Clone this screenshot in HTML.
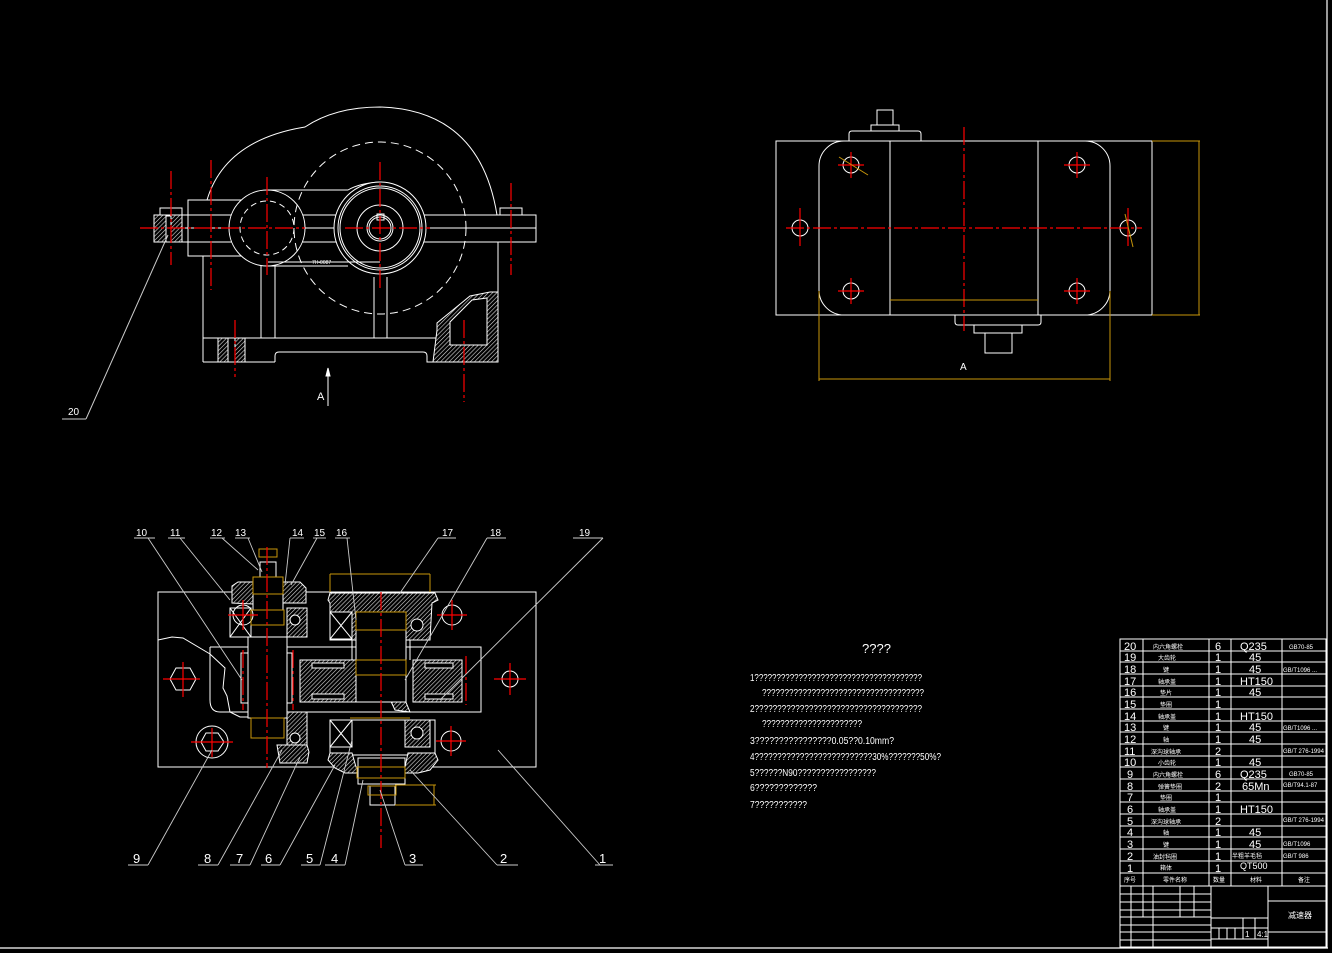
<!DOCTYPE html>
<html><head><meta charset="utf-8"><style>
html,body{margin:0;padding:0;background:#000;}
svg{display:block;}
text{font-family:"Liberation Sans","Noto Sans CJK SC",sans-serif;fill:#fff;}
</style></head><body>
<svg width="1332" height="953" viewBox="0 0 1332 953" xmlns="http://www.w3.org/2000/svg">
<defs>
<pattern id="h" width="3" height="3" patternUnits="userSpaceOnUse" patternTransform="rotate(45)">
<rect width="3" height="3" fill="#000"/><line x1="0" y1="0" x2="0" y2="3" stroke="#ddd" stroke-width="1.2"/>
</pattern>
</defs>
<rect width="1332" height="953" fill="#000"/>
<!-- frame -->
<g stroke="#fff" fill="none" stroke-width="1.2">
<line x1="0" y1="948" x2="1328" y2="948"/>
<line x1="1327" y1="0" x2="1327" y2="948"/>
</g>

<!-- FRONT VIEW -->
<g stroke="#fff" fill="none" stroke-width="1">
<path d="M207,200 Q225,140 305,127 Q335,107 380,107 Q480,110 497,215"/>
<rect x="188" y="200" width="54" height="56"/>
<rect x="154" y="215" width="382" height="27"/>
<line x1="154" y1="228" x2="536" y2="228"/>
<rect x="160" y="208" width="22" height="7"/>
<rect x="500" y="208" width="22" height="7"/>
<rect x="154" y="215" width="28" height="27" fill="url(#h)"/>
<rect x="166" y="216" width="5" height="26" fill="#000"/>
<circle cx="267" cy="228" r="38" fill="#000"/>
<circle cx="267" cy="228" r="27" stroke-dasharray="6,4"/>
<path d="M268,190 L348,190 Q360,183 380,182"/>
<circle cx="380" cy="228" r="86" stroke-dasharray="8,5"/>
<circle cx="380" cy="228" r="46" fill="#000"/>
<circle cx="380" cy="228" r="42"/>
<circle cx="380" cy="228" r="40"/>
<circle cx="380" cy="228" r="23"/>
<circle cx="380" cy="228" r="13"/>
<circle cx="380" cy="228" r="11"/>
<rect x="377" y="214" width="7" height="6"/>
<line x1="203" y1="256" x2="203" y2="362"/>
<line x1="498" y1="242" x2="498" y2="362"/>
<line x1="203" y1="362" x2="275" y2="362"/>
<path d="M275,362 L275,356 Q275,352 279,352 L423,352 Q427,352 427,356 L427,362 L498,362"/>
<line x1="203" y1="338" x2="437" y2="338"/>
<line x1="268" y1="266" x2="348" y2="266"/>
<line x1="261" y1="266" x2="261" y2="338"/><line x1="275" y1="266" x2="275" y2="338"/>
<line x1="374" y1="277" x2="374" y2="338"/><line x1="387" y1="277" x2="387" y2="338"/>
<path d="M437,330 L437,323 L470,296 L490,292 L498,292 L498,362 L433,362 Z" fill="url(#h)"/>
<path d="M450,345 L450,322 L472,300 L487,298 L487,345 Z" fill="#000"/>
<path d="M218,338 L218,362 L245,362 L245,338 Z" fill="url(#h)"/>
<rect x="228" y="338" width="7" height="24" fill="#000"/>
<line x1="268" y1="262" x2="380" y2="262"/>
<line x1="328" y1="372" x2="328" y2="406"/>
<path d="M328,368 L326,376 L330,376 Z" fill="#fff"/>
</g>
<text x="312" y="264" font-size="5" fill="#fff">7H-0087</text>
<text x="317" y="400" font-size="11">A</text>
<g stroke="#f00" stroke-width="1.2" stroke-dasharray="18,3,3,3" fill="none">
<line x1="140" y1="228" x2="305" y2="228"/>
<line x1="345" y1="228" x2="430" y2="228"/>
<line x1="171" y1="171" x2="171" y2="265"/>
<line x1="211" y1="160" x2="211" y2="290"/>
<line x1="267" y1="177" x2="267" y2="275"/>
<line x1="380" y1="162" x2="380" y2="290"/>
<line x1="511" y1="183" x2="511" y2="275"/>
<line x1="235" y1="320" x2="235" y2="377"/>
<line x1="464" y1="320" x2="464" y2="402"/>
</g>
<g stroke="#ccc" fill="none"><line x1="62" y1="419" x2="86" y2="419"/><line x1="86" y1="419" x2="168" y2="235"/></g>
<text x="68" y="415" font-size="10">20</text>

<!-- TOP VIEW -->
<g stroke="#fff" fill="none" stroke-width="1">
<rect x="776" y="141" width="376" height="174"/>
<rect x="819" y="141" width="291" height="174" rx="25"/>
<line x1="890" y1="141" x2="890" y2="315"/><line x1="1038" y1="141" x2="1038" y2="315"/>
<path d="M849,141 L849,134 Q849,131 852,131 L918,131 Q921,131 921,134 L921,141"/>
<rect x="871" y="125" width="28" height="6"/>
<rect x="877" y="110" width="16" height="15"/>
<path d="M955,315 L955,322 Q955,325 958,325 L1038,325 Q1041,325 1041,322 L1041,315"/>
<rect x="974" y="325" width="48" height="8"/>
<rect x="985" y="333" width="27" height="20"/>
<circle cx="851" cy="165" r="8"/><circle cx="1077" cy="165" r="8"/>
<circle cx="851" cy="291" r="8"/><circle cx="1077" cy="291" r="8"/>
<circle cx="800" cy="228" r="8"/><circle cx="1128" cy="228" r="8"/>
</g>
<g stroke="#f00" stroke-width="1.2" fill="none">
<line x1="786" y1="228" x2="1142" y2="228" stroke-dasharray="18,3,3,3"/>
<line x1="964" y1="127" x2="964" y2="331" stroke-dasharray="18,3,3,3"/>
<line x1="838" y1="165" x2="864" y2="165"/><line x1="851" y1="152" x2="851" y2="178"/>
<line x1="1064" y1="165" x2="1090" y2="165"/><line x1="1077" y1="152" x2="1077" y2="178"/>
<line x1="838" y1="291" x2="864" y2="291"/><line x1="851" y1="278" x2="851" y2="304"/>
<line x1="1064" y1="291" x2="1090" y2="291"/><line x1="1077" y1="278" x2="1077" y2="304"/>
<line x1="800" y1="208" x2="800" y2="246"/><line x1="1128" y1="208" x2="1128" y2="246"/>
</g>
<g stroke="#c8960a" fill="none" stroke-width="1">
<line x1="890" y1="300" x2="1038" y2="300"/>
<line x1="1152" y1="141" x2="1200" y2="141"/><line x1="1152" y1="315" x2="1200" y2="315"/>
<line x1="1199" y1="141" x2="1199" y2="315"/>
<line x1="819" y1="291" x2="819" y2="381"/><line x1="1110" y1="291" x2="1110" y2="381"/>
<line x1="819" y1="379" x2="1110" y2="379"/>
<line x1="839" y1="157" x2="868" y2="175"/><line x1="1125" y1="214" x2="1133" y2="247"/>
</g>
<text x="960" y="370" font-size="10">A</text>

<!-- SECTION VIEW -->
<g stroke="#fff" fill="none" stroke-width="1">
<rect x="158" y="592" width="378" height="175"/>
<path d="M158,640 L172,637 L183,638 L210,654 L225,668 L223,688 L227,696 L230,712 L240,717 L248,717"/>
<path d="M210,647 L210,700 Q210,712 220,712 L481,712 L481,647 L210,647"/>
<polygon points="170,679 176,668 190,668 196,679 190,690 176,690"/>
<circle cx="212" cy="742" r="16"/>
<polygon points="201,742 206,733 218,733 224,742 218,751 206,751"/>
<circle cx="243" cy="615" r="10"/><circle cx="452" cy="615" r="10"/>
<circle cx="451" cy="741" r="10"/><circle cx="510" cy="679" r="8"/>
<!-- left shaft assembly -->
<path d="M232,603 L232,586 L238,582 L253,582 L253,604 Z" fill="url(#h)"/>
<path d="M283,582 L300,582 L306,588 L306,603 L283,603 Z" fill="url(#h)"/>
<rect x="253" y="577" width="30" height="33" fill="#000"/>
<rect x="260" y="562" width="16" height="15"/>
<rect x="230" y="608" width="21" height="29"/>
<line x1="230" y1="608" x2="251" y2="637"/><line x1="251" y1="608" x2="230" y2="637"/>
<rect x="287" y="608" width="20" height="29" fill="url(#h)"/>
<circle cx="295" cy="620" r="5" fill="#000"/>
<rect x="248" y="637" width="39" height="81" fill="#000"/>
<rect x="241" y="653" width="7" height="50"/>
<rect x="287" y="653" width="5" height="50"/>
<rect x="251" y="718" width="33" height="20"/>
<path d="M287,712 L307,712 L307,745 L287,745 Z" fill="url(#h)"/>
<circle cx="295" cy="738" r="5" fill="#000"/>
<path d="M277,745 L307,745 L309,752 L307,763 L280,763 Z" fill="url(#h)"/>
<!-- gears -->
<rect x="300" y="660" width="56" height="42" fill="url(#h)"/>
<rect x="312" y="663" width="32" height="5" fill="#000"/>
<rect x="312" y="694" width="32" height="5" fill="#000"/>
<rect x="413" y="660" width="49" height="42" fill="url(#h)"/>
<rect x="425" y="663" width="28" height="5" fill="#000"/>
<rect x="425" y="694" width="28" height="5" fill="#000"/>
<path d="M398,652 L405,652 L405,700 L410,712 L395,710 L388,695 L390,670 Z" fill="url(#h)"/>
<!-- right housing -->
<path d="M328,600 L330,593 L435,593 L438,600 L432,603 L430,640 L405,640 L405,612 L356,612 L356,640 L330,640 L330,603 Z" fill="url(#h)"/>
<rect x="330" y="612" width="22" height="27" fill="#000"/>
<line x1="330" y1="612" x2="352" y2="639"/><line x1="352" y1="612" x2="330" y2="639"/>
<circle cx="417" cy="625" r="6" fill="#000"/>
<rect x="356" y="612" width="50" height="90" fill="#000"/>
<line x1="352" y1="640" x2="352" y2="660"/><line x1="410" y1="640" x2="410" y2="660"/>
<rect x="330" y="720" width="105" height="35"/>
<rect x="330" y="720" width="22" height="27"/>
<line x1="330" y1="720" x2="352" y2="747"/><line x1="352" y1="720" x2="330" y2="747"/>
<rect x="405" y="720" width="25" height="27" fill="url(#h)"/>
<circle cx="417" cy="733" r="6" fill="#000"/>
<path d="M328,760 L330,753 L352,753 L356,767 L405,767 L408,753 L435,753 L438,760 L430,770 L418,773 L345,773 L335,768 Z" fill="url(#h)"/>
<rect x="358" y="758" width="47" height="26" fill="#000"/>
<rect x="370" y="786" width="25" height="19"/>
</g>
<g stroke="#c8960a" fill="none" stroke-width="1">
<rect x="253" y="577" width="30" height="17"/>
<rect x="251" y="610" width="33" height="15"/>
<rect x="251" y="718" width="33" height="20"/>
<line x1="330" y1="574" x2="430" y2="574"/><line x1="330" y1="574" x2="330" y2="592"/><line x1="430" y1="574" x2="430" y2="592"/>
<rect x="356" y="612" width="50" height="18"/>
<rect x="356" y="660" width="50" height="15"/>
<line x1="350" y1="718" x2="410" y2="718"/>
<rect x="357" y="767" width="48" height="11"/>
<line x1="395" y1="785" x2="436" y2="785"/><line x1="395" y1="805" x2="436" y2="805"/><line x1="434" y1="785" x2="434" y2="805"/>
<rect x="368" y="786" width="28" height="9"/>
<rect x="259" y="549" width="18" height="8"/>
</g>
<g stroke="#f00" stroke-width="1.2" fill="none" stroke-dasharray="18,3,3,3">
<line x1="267" y1="547" x2="267" y2="768"/>
<line x1="381" y1="592" x2="381" y2="848"/>
<line x1="243" y1="650" x2="243" y2="710"/><line x1="293" y1="650" x2="293" y2="710"/>
<line x1="466" y1="656" x2="466" y2="705"/>
</g>
<g stroke="#f00" stroke-width="1.2">
<line x1="228" y1="615" x2="258" y2="615"/><line x1="243" y1="600" x2="243" y2="630"/>
<line x1="437" y1="615" x2="467" y2="615"/><line x1="452" y1="600" x2="452" y2="630"/>
<line x1="436" y1="741" x2="466" y2="741"/><line x1="451" y1="726" x2="451" y2="756"/>
<line x1="494" y1="679" x2="526" y2="679"/><line x1="510" y1="663" x2="510" y2="695"/>
<line x1="163" y1="679" x2="200" y2="679"/><line x1="183" y1="662" x2="183" y2="697"/>
<line x1="191" y1="742" x2="233" y2="742"/><line x1="212" y1="728" x2="212" y2="757"/>
</g>
<g stroke="#ccc" fill="none" stroke-width="0.9">
<line x1="134" y1="538" x2="155" y2="538"/><line x1="148" y1="538" x2="242" y2="680"/>
<line x1="168" y1="538" x2="185" y2="538"/><line x1="180" y1="538" x2="230" y2="600"/>
<line x1="210" y1="538" x2="225" y2="538"/><line x1="222" y1="538" x2="258" y2="570"/>
<line x1="235" y1="538" x2="250" y2="538"/><line x1="248" y1="538" x2="262" y2="572"/>
<line x1="290" y1="538" x2="304" y2="538"/><line x1="290" y1="538" x2="285" y2="585"/>
<line x1="313" y1="538" x2="326" y2="538"/><line x1="317" y1="538" x2="291" y2="585"/>
<line x1="335" y1="538" x2="350" y2="538"/><line x1="347" y1="538" x2="356" y2="620"/>
<line x1="438" y1="538" x2="456" y2="538"/><line x1="438" y1="538" x2="400" y2="593"/>
<line x1="487" y1="538" x2="506" y2="538"/><line x1="487" y1="538" x2="405" y2="680"/>
<line x1="573" y1="538" x2="603" y2="538"/><line x1="603" y1="538" x2="440" y2="700"/>
<line x1="128" y1="865" x2="148" y2="865"/><line x1="148" y1="865" x2="212" y2="750"/>
<line x1="198" y1="865" x2="218" y2="865"/><line x1="218" y1="865" x2="282" y2="750"/>
<line x1="230" y1="865" x2="250" y2="865"/><line x1="250" y1="865" x2="300" y2="757"/>
<line x1="261" y1="865" x2="280" y2="865"/><line x1="280" y1="865" x2="335" y2="765"/>
<line x1="301" y1="865" x2="320" y2="865"/><line x1="320" y1="865" x2="352" y2="740"/>
<line x1="325" y1="865" x2="345" y2="865"/><line x1="345" y1="865" x2="363" y2="780"/>
<line x1="405" y1="865" x2="423" y2="865"/><line x1="405" y1="865" x2="380" y2="790"/>
<line x1="497" y1="865" x2="518" y2="865"/><line x1="497" y1="865" x2="410" y2="770"/>
<line x1="595" y1="865" x2="613" y2="865"/><line x1="600" y1="865" x2="498" y2="750"/>
</g>
<g font-size="10">
<text x="136" y="536">10</text><text x="170" y="536">11</text><text x="211" y="536">12</text>
<text x="235" y="536">13</text><text x="292" y="536">14</text><text x="314" y="536">15</text>
<text x="336" y="536">16</text><text x="442" y="536">17</text><text x="490" y="536">18</text>
<text x="579" y="536">19</text>
<text font-size="13" x="133" y="863">9</text><text font-size="13" x="204" y="863">8</text>
<text font-size="13" x="236" y="863">7</text><text font-size="13" x="265" y="863">6</text>
<text font-size="13" x="306" y="863">5</text><text font-size="13" x="331" y="863">4</text>
<text font-size="13" x="409" y="863">3</text><text font-size="13" x="500" y="863">2</text>
<text font-size="13" x="599" y="863">1</text>
</g>

<!-- NOTES -->
<g font-size="10">
<text x="862" y="653" font-size="13">????</text>
<text x="750" y="681" textLength="172" lengthAdjust="spacingAndGlyphs">1??????????????????????????????????????</text>
<text x="762" y="696" textLength="162" lengthAdjust="spacingAndGlyphs">????????????????????????????????????</text>
<text x="750" y="712" textLength="172" lengthAdjust="spacingAndGlyphs">2?????????????????????????????????????</text>
<text x="762" y="727" textLength="100" lengthAdjust="spacingAndGlyphs">??????????????????????</text>
<text x="750" y="744" textLength="144" lengthAdjust="spacingAndGlyphs">3????????????????0.05??0.10mm?</text>
<text x="750" y="760" textLength="191" lengthAdjust="spacingAndGlyphs">4??????????????????????????30%???????50%?</text>
<text x="750" y="776" textLength="126" lengthAdjust="spacingAndGlyphs">5??????N90?????????????????</text>
<text x="750" y="791" textLength="67" lengthAdjust="spacingAndGlyphs">6?????????????</text>
<text x="750" y="808" textLength="57" lengthAdjust="spacingAndGlyphs">7???????????</text>
</g>

<!-- TABLE -->
<g stroke="#fff" fill="none" stroke-width="1">
<rect x="1120" y="639" width="206" height="308"/>
<line x1="1143" y1="639" x2="1143" y2="886"/>
<line x1="1209" y1="639" x2="1209" y2="886"/>
<line x1="1231" y1="639" x2="1231" y2="886"/>
<line x1="1282" y1="639" x2="1282" y2="886"/>
<g id="rows"></g>
<line x1="1120" y1="651" x2="1326" y2="651"/><line x1="1120" y1="662" x2="1326" y2="662"/>
<line x1="1120" y1="674" x2="1326" y2="674"/><line x1="1120" y1="686" x2="1326" y2="686"/>
<line x1="1120" y1="697" x2="1326" y2="697"/><line x1="1120" y1="709" x2="1326" y2="709"/>
<line x1="1120" y1="721" x2="1326" y2="721"/><line x1="1120" y1="732" x2="1326" y2="732"/>
<line x1="1120" y1="744" x2="1326" y2="744"/><line x1="1120" y1="756" x2="1326" y2="756"/>
<line x1="1120" y1="767" x2="1326" y2="767"/><line x1="1120" y1="779" x2="1326" y2="779"/>
<line x1="1120" y1="791" x2="1326" y2="791"/><line x1="1120" y1="802" x2="1326" y2="802"/>
<line x1="1120" y1="814" x2="1326" y2="814"/><line x1="1120" y1="826" x2="1326" y2="826"/>
<line x1="1120" y1="837" x2="1326" y2="837"/><line x1="1120" y1="849" x2="1326" y2="849"/>
<line x1="1120" y1="861" x2="1326" y2="861"/><line x1="1120" y1="873" x2="1326" y2="873"/>
<line x1="1120" y1="886" x2="1326" y2="886"/>
<!-- title block -->
<line x1="1211" y1="886" x2="1211" y2="947"/>
<line x1="1268" y1="886" x2="1268" y2="947"/>
<line x1="1120" y1="894" x2="1211" y2="894"/><line x1="1120" y1="902" x2="1211" y2="902"/>
<line x1="1120" y1="910" x2="1211" y2="910"/><line x1="1120" y1="917" x2="1211" y2="917"/>
<line x1="1120" y1="925" x2="1211" y2="925"/><line x1="1120" y1="932" x2="1211" y2="932"/>
<line x1="1120" y1="940" x2="1211" y2="940"/>
<line x1="1131" y1="886" x2="1131" y2="947"/><line x1="1143" y1="886" x2="1143" y2="917"/>
<line x1="1153" y1="886" x2="1153" y2="947"/><line x1="1180" y1="886" x2="1180" y2="917"/>
<line x1="1194" y1="886" x2="1194" y2="917"/>
<line x1="1268" y1="901" x2="1326" y2="901"/><line x1="1268" y1="932" x2="1326" y2="932"/>
<line x1="1211" y1="918" x2="1268" y2="918"/><line x1="1211" y1="928" x2="1268" y2="928"/>
<line x1="1211" y1="939" x2="1268" y2="939"/>
<line x1="1243" y1="918" x2="1243" y2="939"/><line x1="1255" y1="918" x2="1255" y2="939"/>
<line x1="1219" y1="928" x2="1219" y2="939"/><line x1="1227" y1="928" x2="1227" y2="939"/>
<line x1="1235" y1="928" x2="1235" y2="939"/>
</g>
<g font-size="11">
<text x="1124" y="650">20</text><text x="1124" y="661">19</text><text x="1124" y="673">18</text>
<text x="1124" y="685">17</text><text x="1124" y="696">16</text><text x="1124" y="708">15</text>
<text x="1124" y="720">14</text><text x="1124" y="731">13</text><text x="1124" y="743">12</text>
<text x="1124" y="755">11</text><text x="1124" y="766">10</text><text x="1127" y="778">9</text>
<text x="1127" y="790">8</text><text x="1127" y="801">7</text><text x="1127" y="813">6</text>
<text x="1127" y="825">5</text><text x="1127" y="836">4</text><text x="1127" y="848">3</text>
<text x="1127" y="860">2</text><text x="1127" y="872">1</text>
<text x="1215" y="650">6</text><text x="1215" y="661">1</text><text x="1215" y="673">1</text>
<text x="1215" y="685">1</text><text x="1215" y="696">1</text><text x="1215" y="708">1</text>
<text x="1215" y="720">1</text><text x="1215" y="731">1</text><text x="1215" y="743">1</text>
<text x="1215" y="755">2</text><text x="1215" y="766">1</text><text x="1215" y="778">6</text>
<text x="1215" y="790">2</text><text x="1215" y="801">1</text><text x="1215" y="813">1</text>
<text x="1215" y="825">2</text><text x="1215" y="836">1</text><text x="1215" y="848">1</text>
<text x="1215" y="860">1</text><text x="1215" y="872">1</text>
<text x="1240" y="650">Q235</text><text x="1249" y="661">45</text><text x="1249" y="673">45</text>
<text x="1240" y="685">HT150</text><text x="1249" y="696">45</text>
<text x="1240" y="720">HT150</text><text x="1249" y="731">45</text><text x="1249" y="743">45</text>
<text x="1249" y="766">45</text><text x="1240" y="778">Q235</text><text x="1242" y="790">65Mn</text>
<text x="1240" y="813">HT150</text><text x="1249" y="836">45</text><text x="1249" y="848">45</text>
<text x="1240" y="869" font-size="9">QT500</text>
</g>
<g font-size="6">
<text x="1289" y="649">GB70-85</text><text x="1289" y="776">GB70-85</text>
<text x="1283" y="672">GB/T1096 ...</text><text x="1283" y="730">GB/T1096 ...</text>
<text x="1283" y="753">GB/T 276-1994</text><text x="1283" y="787">GB/T94.1-87</text>
<text x="1283" y="822">GB/T 276-1994</text><text x="1283" y="846">GB/T1096</text>
<text x="1283" y="858">GB/T 986</text>
<text x="1153" y="649">内六角螺栓</text><text x="1158" y="660">大齿轮</text><text x="1163" y="672">键</text>
<text x="1158" y="684">轴承盖</text><text x="1160" y="695">垫片</text><text x="1160" y="707">垫圈</text>
<text x="1158" y="719">轴承盖</text><text x="1163" y="730">键</text><text x="1163" y="742">轴</text>
<text x="1151" y="754">深沟球轴承</text><text x="1158" y="765">小齿轮</text><text x="1153" y="777">内六角螺栓</text>
<text x="1158" y="789">弹簧垫圈</text><text x="1160" y="800">垫圈</text><text x="1158" y="812">轴承盖</text>
<text x="1151" y="824">深沟球轴承</text><text x="1163" y="835">轴</text><text x="1163" y="847">键</text>
<text x="1153" y="859">油封毡圈</text><text x="1160" y="870">箱体</text>
<text x="1232" y="858">半粗羊毛毡</text>
<text x="1124" y="882">序号</text><text x="1163" y="882">零件名称</text><text x="1213" y="882">数量</text>
<text x="1250" y="882">材料</text><text x="1298" y="882">备注</text>
<text x="1288" y="918" font-size="8">减速器</text>
<text x="1245" y="937" font-size="8">1</text><text x="1257" y="937" font-size="8">4:1</text>
</g>
</svg>
</body></html>
